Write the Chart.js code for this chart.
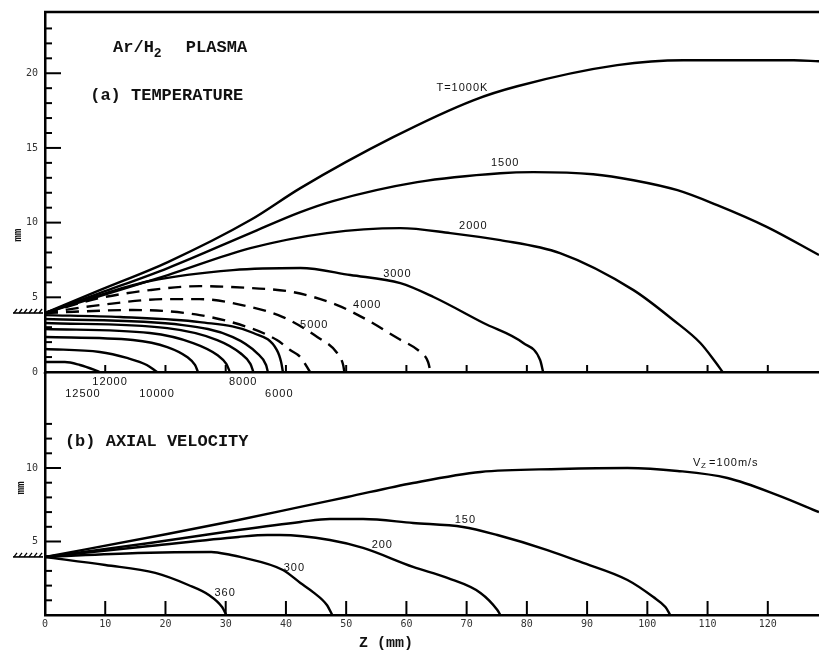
<!DOCTYPE html>
<html>
<head>
<meta charset="utf-8">
<script src="https://cdn.jsdelivr.net/npm/chart.js@4/dist/chart.umd.min.js"></script>
<style>
  html, body { margin: 0; padding: 0; background: #fff; }
  #lamina { position: relative; width: 819px; height: 653px; overflow: hidden; background: #fff; }
  #lamina canvas { position: absolute; left: 0; }
  #graficaTemp { top: 0; }
  #graficaVel { top: 372px; }
</style>
</head>
<body>
<div id="lamina">
  <canvas id="graficaTemp" width="819" height="400"></canvas>
  <canvas id="graficaVel" width="819" height="281"></canvas>
</div>
<script>
// Eje Z (mm), comun a los dos paneles
const ejeZ = [0, 10, 20, 30, 40, 50, 60, 70, 80, 90, 100, 110, 120];

// Marcas del eje radial
const marcasTemp = [0, 1, 2, 3, 4, 5, 6, 7, 8, 9, 10, 11, 12, 13, 14, 15, 16, 17, 18, 19, 20, 21, 22, 23];
const etiquetasTemp = [0, 5, 10, 15, 20];
const marcasVel = [0, 1, 2, 3, 4, 5, 6, 7, 8, 9, 10, 11, 12, 13];
const etiquetasVel = [5, 10];

// (a) Isotermas [z, r] en mm
const T1000 = [[0, 3.95], [9.1, 5.48], [20.4, 7.36], [34.1, 10.17], [42.4, 12.31], [57.8, 15.72], [71.1, 18.19], [78.4, 19.13], [95.0, 20.54], [106.0, 20.87], [124.3, 20.87], [128.5, 20.8]];
const T1500 = [[0, 3.95], [9.1, 5.28], [20.4, 6.96], [34.1, 9.3], [42.4, 10.7], [47.8, 11.44], [61.8, 12.71], [75.6, 13.31], [81.1, 13.38], [91.0, 13.24], [97.7, 12.84], [105.0, 12.17], [111.6, 11.17], [119.9, 9.7], [128.5, 7.83]];
const T2000 = [[0, 3.95], [9.1, 5.08], [20.4, 6.49], [34.1, 8.29], [46.8, 9.3], [59.0, 9.63], [67.3, 9.3], [75.6, 8.83], [85.5, 7.96], [97.7, 5.48], [104.3, 3.48], [108.8, 1.94], [111.3, 0.67], [112.5, 0]];
const T3000 = [[0, 3.95], [9.1, 5.15], [17.4, 6.09], [31.2, 6.82], [42.4, 6.96], [50.7, 6.49], [59.0, 5.95], [64.5, 5.02], [72.8, 3.28], [79.4, 1.94], [82.2, 0.8], [82.7, 0]];
const T4000 = [[0, 3.95], [9.1, 4.95], [17.4, 5.48], [25.7, 5.75], [34.1, 5.62], [41.2, 5.35], [48.5, 4.48], [53.5, 3.48], [58.5, 2.27], [62.3, 1.34], [63.6, 0.67], [64.0, 0]];
const T5000 = [[0, 3.95], [9.1, 4.48], [20.3, 4.88], [25.7, 4.88], [34.1, 4.35], [39.5, 3.68], [45.2, 2.34], [48.5, 1.27], [49.5, 0.47], [49.7, 0]];
const T6000 = [[0, 3.95], [14.6, 4.15], [25.7, 3.81], [34.1, 2.94], [38.5, 2.14], [40.7, 1.47], [42.4, 1.0], [44.0, 0]];
const T7000 = [[0, 3.81], [12.5, 3.68], [25.7, 3.34], [34.6, 2.61], [38.5, 1.47], [39.2, 0.67], [39.5, 0]];
const T8000 = [[0, 3.55], [22.9, 3.14], [31.2, 2.34], [35.2, 1.27], [36.7, 0.47], [37.0, 0]];
const T9000 = [[0, 3.28], [20.3, 2.94], [28.6, 2.14], [32.4, 1.27], [34.1, 0.54], [34.6, 0]];
const T10000 = [[0, 2.88], [17.4, 2.61], [24.6, 1.94], [28.6, 1.14], [30.1, 0.54], [30.7, 0]];
const T11000 = [[0, 2.34], [14.6, 2.14], [20.3, 1.67], [23.6, 1.0], [24.9, 0.47], [25.4, 0]];
const T12000 = [[0, 1.54], [9.1, 1.34], [13.6, 0.94], [16.9, 0.47], [18.6, 0]];
const T12500 = [[0, 0.67], [3.3, 0.67], [5.8, 0.47], [8.3, 0.13], [9.1, 0]];

// (b) Isotacas [z, r] en mm
const V100 = [[0, 3.95], [20.3, 5.51], [32.1, 6.46], [42.4, 7.35], [50.2, 8.03], [61.1, 8.98], [72.3, 9.73], [85.5, 9.93], [96.7, 10.0], [105.0, 9.8], [113.3, 9.32], [121.6, 8.16], [128.5, 7.0]];
const V150 = [[0, 3.95], [17.4, 4.9], [32.1, 5.78], [42.4, 6.33], [47.3, 6.53], [52.8, 6.53], [61.1, 6.26], [69.4, 5.99], [75.1, 5.44], [83.4, 4.42], [88.9, 3.61], [96.7, 2.38], [101.0, 1.22], [103.0, 0.54], [103.8, 0]];
const V200 = [[0, 3.95], [17.4, 4.69], [32.1, 5.31], [36.9, 5.44], [39.0, 5.44], [47.3, 5.1], [52.8, 4.56], [61.1, 3.27], [66.8, 2.52], [72.3, 1.5], [75.1, 0.34], [75.6, 0]];
const V300 = [[0, 3.95], [15.4, 4.22], [27.6, 4.29], [30.9, 4.08], [32.4, 3.95], [39.5, 3.06], [42.4, 2.18], [44.5, 1.56], [46.8, 0.68], [47.7, 0]];
const V360 = [[0, 3.95], [10.0, 3.4], [18.3, 2.86], [23.8, 2.04], [27.2, 1.36], [29.4, 0.54], [30.1, 0]];

const curvasTemp = [
  ['1000 K', T1000, false], ['1500 K', T1500, false], ['2000 K', T2000, false], ['3000 K', T3000, false],
  ['4000 K', T4000, true], ['5000 K', T5000, true], ['6000 K', T6000, true],
  ['7000 K', T7000, false], ['8000 K', T8000, false], ['9000 K', T9000, false], ['10000 K', T10000, false],
  ['11000 K', T11000, false], ['12000 K', T12000, false], ['12500 K', T12500, false]
];
const curvasVel = [['100 m/s', V100], ['150 m/s', V150], ['200 m/s', V200], ['300 m/s', V300], ['360 m/s', V360]];

function aPuntos(arr) {
  return arr.map(p => ({ x: p[0], y: p[1] }));
}

function serie(nombre, arr, rayada) {
  return {
    label: nombre,
    data: aPuntos(arr),
    borderColor: '#000',
    borderWidth: 2.4,
    borderDash: rayada ? [13, 8] : [],
    pointRadius: 0,
    fill: false,
    cubicInterpolationMode: 'monotone'
  };
}

const fuenteEje = { family: '"DejaVu Sans Mono", monospace', size: 10 };

function escalas(yMax, marcas, etiquetas, altoX, verX) {
  return {
    x: {
      type: 'linear', min: 0, max: 128.5,
      afterBuildTicks: s => { s.ticks = ejeZ.map(v => ({ value: v })); },
      afterFit: s => { s.height = altoX; },
      grid: { drawOnChartArea: false, drawTicks: false },
      border: { display: true, color: '#000', width: 2.5 },
      ticks: { display: verX, autoSkip: false, maxRotation: 0, padding: 3, color: '#333', font: fuenteEje }
    },
    y: {
      type: 'linear', min: 0, max: yMax,
      afterBuildTicks: s => { s.ticks = marcas.map(v => ({ value: v })); },
      afterFit: s => { s.width = 45; s.paddingTop = 0; s.paddingBottom = 0; },
      grid: { drawOnChartArea: false, drawTicks: false },
      border: { display: true, color: '#000', width: 2.5 },
      ticks: { autoSkip: false, padding: 7, color: '#333', font: fuenteEje,
        callback: v => etiquetas.includes(v) ? String(v) : '' }
    }
  };
}

function linea(ctx, x1, y1, x2, y2, w) {
  ctx.beginPath();
  ctx.lineWidth = w;
  ctx.moveTo(x1, y1);
  ctx.lineTo(x2, y2);
  ctx.stroke();
}

// marca de la pared de la tobera
function pared(ctx, xEje, py) {
  linea(ctx, xEje - 32, py, xEje - 2, py, 1.6);
  for (let i = 0; i < 6; i++) {
    const px = xEje - 31 + i * 5;
    linea(ctx, px, py, px + 3, py - 4, 1.3);
  }
}

function marcasEjes(chart, marcas, mayores, largoX) {
  const { ctx, chartArea, scales: { x, y } } = chart;
  ctx.strokeStyle = '#000';
  marcas.forEach(v => {
    if (v === 0) return;
    const py = y.getPixelForValue(v);
    linea(ctx, chartArea.left, py, chartArea.left + (mayores.includes(v) ? 16 : 7), py, 2);
  });
  ejeZ.forEach(v => {
    if (v === 0) return;
    const px = x.getPixelForValue(v);
    linea(ctx, px, chartArea.bottom, px, chartArea.bottom - largoX, 2);
  });
}

function texto(ctx, t, px, py, font, align) {
  ctx.font = font;
  ctx.textAlign = align || 'center';
  ctx.textBaseline = 'middle';
  ctx.fillText(t, px, py);
}

const fuenteTitulo = 'bold 17px "Liberation Mono", monospace';
const fuenteCota = '11px "Liberation Sans", Arial, sans-serif';

const cotasTemp = [
  ['T=1000K', 69.3, 19.0], ['1500', 76.4, 14.0], ['2000', 71.1, 9.77], ['3000', 58.5, 6.55],
  ['4000', 53.5, 4.48], ['5000', 44.7, 3.14],
  ['12000', 10.8, -0.67], ['12500', 6.3, -1.47], ['10000', 18.6, -1.47], ['8000', 32.9, -0.67], ['6000', 38.9, -1.47]
];
const cotasVel = [['150', 69.8, 6.46], ['200', 56.0, 4.76], ['300', 41.4, 3.2], ['360', 29.9, 1.5]];

const pluginTemp = {
  id: 'pluginTemp',
  afterDraw(chart) {
    const { ctx, chartArea, scales: { x, y } } = chart;
    ctx.save();
    ctx.strokeStyle = '#000';
    ctx.fillStyle = '#111';
    linea(ctx, chartArea.left - 1, chartArea.top, chartArea.right, chartArea.top, 2.5);
    marcasEjes(chart, marcasTemp, etiquetasTemp, 7);
    pared(ctx, chartArea.left, y.getPixelForValue(3.95));

    // titulos
    const x0 = x.getPixelForValue(11.3), y0 = y.getPixelForValue(21.7);
    texto(ctx, 'Ar/H', x0, y0, fuenteTitulo, 'left');
    const w = ctx.measureText('Ar/H').width;
    texto(ctx, '2', x0 + w, y0 + 6, 'bold 13px "Liberation Mono", monospace', 'left');
    texto(ctx, 'PLASMA', x0 + w + 32, y0, fuenteTitulo, 'left');
    texto(ctx, '(a) TEMPERATURE', x.getPixelForValue(7.5), y.getPixelForValue(18.5), fuenteTitulo, 'left');

    ctx.save();
    ctx.translate(chartArea.left - 27, y.getPixelForValue(9.16));
    ctx.rotate(-Math.PI / 2);
    texto(ctx, 'mm', 0, 0, 'bold 11px "Liberation Mono", monospace');
    ctx.restore();

    ctx.letterSpacing = '1px';
    cotasTemp.forEach(c => texto(ctx, c[0], x.getPixelForValue(c[1]), y.getPixelForValue(c[2]), fuenteCota));
    ctx.restore();
  }
};

const pluginVel = {
  id: 'pluginVel',
  afterDraw(chart) {
    const { ctx, chartArea, scales: { x, y } } = chart;
    ctx.save();
    ctx.strokeStyle = '#000';
    ctx.fillStyle = '#111';
    // el eje radial sube hasta la base del panel (a)
    linea(ctx, chartArea.left, 0, chartArea.left, chartArea.top + 2, 2.5);
    marcasEjes(chart, marcasVel, etiquetasVel, 14);
    pared(ctx, chartArea.left, y.getPixelForValue(3.95));

    texto(ctx, '(b) AXIAL VELOCITY', x.getPixelForValue(3.3), y.getPixelForValue(11.77), fuenteTitulo, 'left');
    texto(ctx, 'Z (mm)', x.getPixelForValue(56.6), chartArea.bottom + 28, 'bold 15px "Liberation Mono", monospace');

    ctx.save();
    ctx.translate(chartArea.left - 24, y.getPixelForValue(8.64));
    ctx.rotate(-Math.PI / 2);
    texto(ctx, 'mm', 0, 0, 'bold 11px "Liberation Mono", monospace');
    ctx.restore();

    ctx.letterSpacing = '1px';
    const vx = x.getPixelForValue(107.6), vy = y.getPixelForValue(10.34);
    texto(ctx, 'V', vx, vy, fuenteCota, 'left');
    texto(ctx, 'Z', vx + 8, vy + 3, '8px "Liberation Sans", Arial, sans-serif', 'left');
    texto(ctx, '=100m/s', vx + 16, vy, fuenteCota, 'left');
    cotasVel.forEach(c => texto(ctx, c[0], x.getPixelForValue(c[1]), y.getPixelForValue(c[2]), fuenteCota));
    ctx.restore();
  }
};

function crearGraficas() {
  new Chart(document.getElementById('graficaTemp'), {
    type: 'line',
    data: { datasets: curvasTemp.map(c => serie(c[0], c[1], c[2])) },
    options: {
      responsive: false,
      animation: false,
      layout: { padding: { top: 12, right: 0, left: 0, bottom: 0 } },
      plugins: { legend: { display: false }, tooltip: { enabled: false } },
      scales: escalas(24.1, marcasTemp, etiquetasTemp, 28, false)
    },
    plugins: [pluginTemp]
  });

  new Chart(document.getElementById('graficaVel'), {
    type: 'line',
    data: { datasets: curvasVel.map(c => serie(c[0], c[1], false)) },
    options: {
      responsive: false,
      animation: false,
      layout: { padding: 0 },
      plugins: { legend: { display: false }, tooltip: { enabled: false } },
      scales: escalas(16.53, marcasVel, etiquetasVel, 38, true)
    },
    plugins: [pluginVel]
  });
}

document.addEventListener('DOMContentLoaded', crearGraficas);
</script>
</body>
</html>
